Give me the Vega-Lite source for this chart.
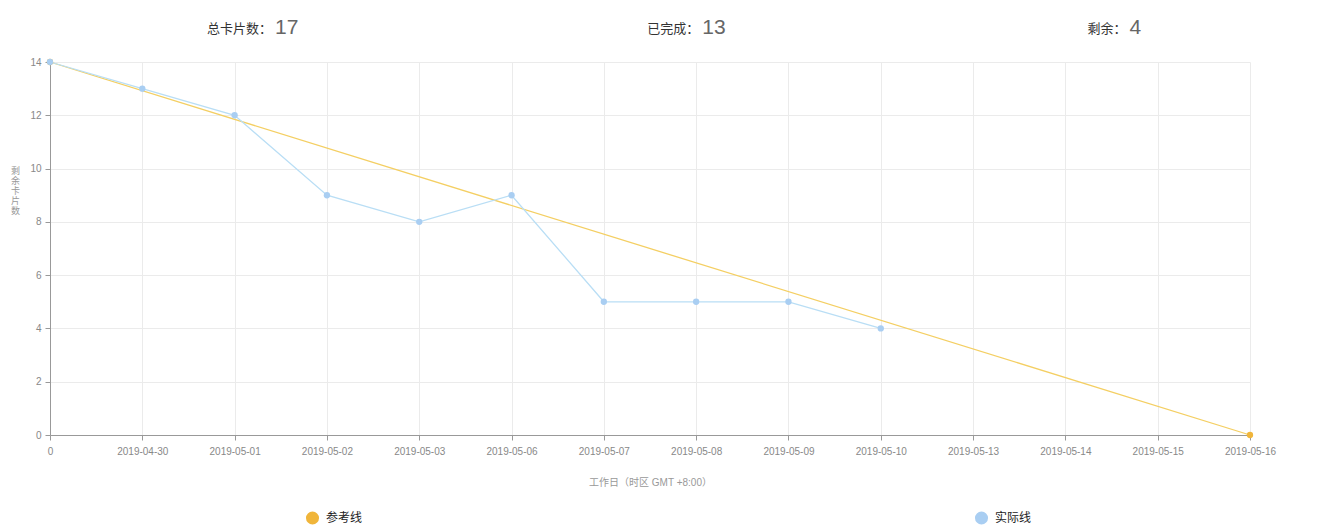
{
  "$schema": "https://vega.github.io/schema/vega-lite/v6.json",
  "background": "white",
  "padding": {"left": 10, "top": 5, "right": 5, "bottom": 5},
  "config": {
    "view": {"stroke": null},
    "font": "Liberation Sans, Noto Sans CJK SC, sans-serif",
    "concat": {"spacing": 6}
  },
  "datasets": {
    "header": [
      {"key": "总卡片数", "label": "总卡片数：", "num": "17"},
      {"key": "已完成", "label": "已完成：", "num": "13"},
      {"key": "剩余", "label": "剩余：", "num": "4"}
    ],
    "burn": [
      {"day": "0", "cards": 14, "series": "参考线"},
      {"day": "2019-05-16", "cards": 0, "series": "参考线"},
      {"day": "0", "cards": 14, "series": "实际线"},
      {"day": "2019-04-30", "cards": 13, "series": "实际线"},
      {"day": "2019-05-01", "cards": 12, "series": "实际线"},
      {"day": "2019-05-02", "cards": 9, "series": "实际线"},
      {"day": "2019-05-03", "cards": 8, "series": "实际线"},
      {"day": "2019-05-06", "cards": 9, "series": "实际线"},
      {"day": "2019-05-07", "cards": 5, "series": "实际线"},
      {"day": "2019-05-08", "cards": 5, "series": "实际线"},
      {"day": "2019-05-09", "cards": 5, "series": "实际线"},
      {"day": "2019-05-10", "cards": 4, "series": "实际线"}
    ]
  },
  "vconcat": [
    {
      "width": 1256,
      "height": 46,
      "data": {"name": "header"},
      "encoding": {
        "x": {
          "field": "key",
          "type": "nominal",
          "sort": null,
          "axis": null,
          "scale": {"type": "point", "padding": 0.47, "align": 0.553}
        }
      },
      "layer": [
        {
          "mark": {"type": "text", "align": "right", "baseline": "middle", "fontSize": 13, "color": "#333333", "dy": 1},
          "encoding": {"text": {"field": "label"}}
        },
        {
          "mark": {"type": "text", "align": "left", "baseline": "middle", "fontSize": 21, "color": "#666666", "dx": 3},
          "encoding": {"text": {"field": "num"}}
        }
      ]
    },
    {
      "width": 1200,
      "height": 373,
      "data": {"name": "burn"},
      "encoding": {
        "x": {
          "field": "day",
          "type": "nominal",
          "scale": {
            "type": "point",
            "padding": 0,
            "domain": ["0", "2019-04-30", "2019-05-01", "2019-05-02", "2019-05-03", "2019-05-06", "2019-05-07", "2019-05-08", "2019-05-09", "2019-05-10", "2019-05-13", "2019-05-14", "2019-05-15", "2019-05-16"]
          },
          "axis": {
            "title": "工作日（时区 GMT +8:00）",
            "titleFontSize": 10,
            "titleFontWeight": "normal",
            "titleColor": "#999999",
            "titlePadding": 21,
            "labelAngle": 0,
            "labelFontSize": 10,
            "labelColor": "#888888",
            "labelPadding": 6,
            "grid": true,
            "gridColor": "#ebebeb",
            "domainColor": "#999999",
            "tickColor": "#999999",
            "tickSize": 5
          }
        },
        "y": {
          "field": "cards",
          "type": "quantitative",
          "scale": {"domain": [0, 14], "nice": false},
          "axis": {
            "values": [0, 2, 4, 6, 8, 10, 12, 14],
            "title": ["剩", "余", "卡", "片", "数"],
            "titleAngle": 0,
            "titleFontSize": 9,
            "titleLineHeight": 10,
            "titleFontWeight": "normal",
            "titleColor": "#999999",
            "titleY": 104,
            "titleX": -35,
            "titleAlign": "center",
            "titleBaseline": "top",
            "labelFontSize": 10,
            "labelColor": "#888888",
            "labelPadding": 4,
            "grid": true,
            "gridColor": "#ebebeb",
            "domainColor": "#999999",
            "tickColor": "#999999",
            "tickSize": 5
          }
        }
      },
      "layer": [
        {
          "mark": {"type": "line", "strokeWidth": 1.3},
          "encoding": {
            "color": {
              "field": "series",
              "type": "nominal",
              "scale": {"domain": ["参考线", "实际线"], "range": ["#f4cf63", "#b9def5"]},
              "legend": null
            }
          }
        },
        {
          "mark": {"type": "point", "filled": true, "opacity": 1, "size": 40},
          "encoding": {
            "color": {
              "field": "series",
              "type": "nominal",
              "scale": {"domain": ["参考线", "实际线"], "range": ["#f0b53a", "#a9cef2"]},
              "legend": {
                "title": null,
                "orient": "none",
                "direction": "horizontal",
                "legendX": 255,
                "legendY": 448,
                "symbolType": "circle",
                "symbolSize": 170,
                "symbolOpacity": 1,
                "labelFontSize": 12,
                "labelColor": "#222222",
                "labelOffset": 6,
                "columnPadding": 611
              }
            }
          }
        }
      ],
      "resolve": {"scale": {"color": "independent"}, "legend": {"color": "independent"}}
    }
  ]
}
